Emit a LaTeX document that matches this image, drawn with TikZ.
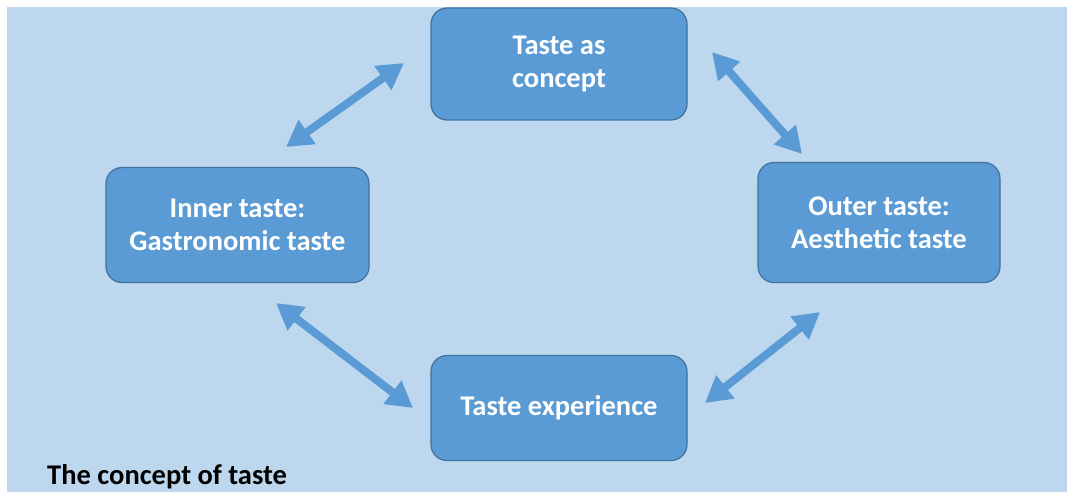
\documentclass[tikz,border=0pt]{standalone}
\usepackage{fontspec}
\setmainfont{Carlito}
\usepackage{xcolor}
\usepackage{tikz}
\usetikzlibrary{arrows.meta}
\definecolor{bgblue}{HTML}{BDD7EE}
\definecolor{boxblue}{HTML}{5B9BD5}
\definecolor{rimblue}{HTML}{41719C}
\tikzset{link/.style = {<->, >={Triangle[length=26pt,width=28pt]}, line width=8pt, draw=boxblue}}

\begin{document}
\begin{tikzpicture}[x=1pt,y=-1pt,main node/.style={rectangle,rounded corners=16pt,draw=rimblue,line width=1.2pt,fill=boxblue,text=white,align=center,font=\bfseries\fontsize{28.5}{33}\selectfont}]
            \useasboundingbox (0,0) rectangle (1067,492);
            \fill[bgblue] (7,7) rectangle (1067,492);

            \node[main node, minimum width=256pt, minimum height=112pt] (concept) at (559,64) {Taste as\\concept};
            \node[main node, minimum width=263pt, minimum height=115pt] (inner) at (237.5,225) {Inner taste:\\Gastronomic taste};
            \node[main node, minimum width=242pt, minimum height=120pt] (outer) at (879,222.5) {Outer taste:\\Aesthetic taste};
            \node[main node, minimum width=256pt, minimum height=105pt] (experience) at (559,408) {Taste experience};

            \node[anchor=base west, inner sep=0pt, font=\bfseries\fontsize{28.5}{33}\selectfont] (title) at (47,484) {The concept of taste};

            %arrow ends, off the boxes
            \coordinate (c1) at (404,63);  \coordinate (i1) at (286,147);
            \coordinate (c2) at (712,52);  \coordinate (o1) at (802,154);
            \coordinate (i2) at (276,303); \coordinate (e1) at (413,408);
            \coordinate (o2) at (820,312); \coordinate (e2) at (705,403);

            \draw[link] (c1) -- (i1);
            \draw[link] (c2) -- (o1);
            \draw[link] (i2) -- (e1);
            \draw[link] (o2) -- (e2);
        \end{tikzpicture}
\end{document}
